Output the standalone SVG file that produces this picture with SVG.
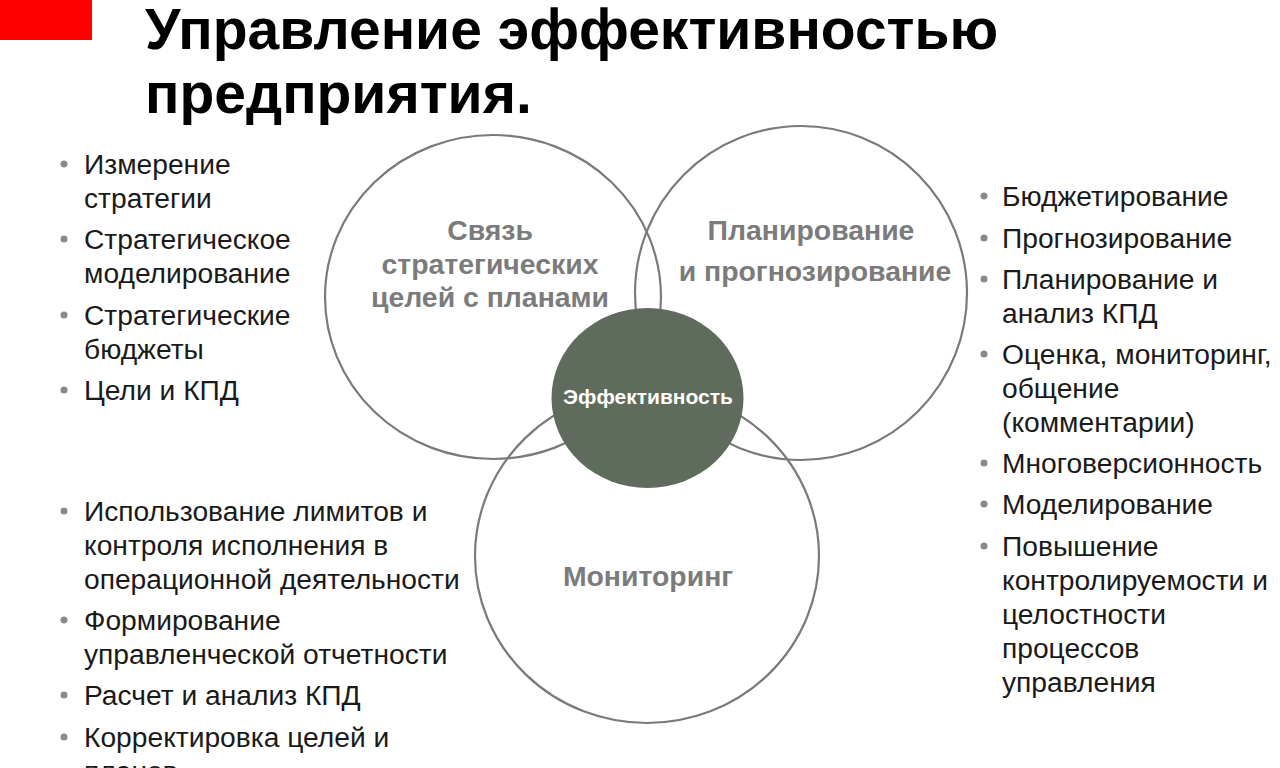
<svg xmlns="http://www.w3.org/2000/svg" width="1280" height="768" viewBox="0 0 1280 768">
<style>
.title{font-family:"Liberation Sans",Arial,sans-serif;font-weight:bold;font-size:57px;fill:#000}
.li{font-family:"Liberation Sans",Arial,sans-serif;font-size:28.2px;fill:#1a1a1a}
.lbl{font-family:"Liberation Sans",Arial,sans-serif;font-weight:bold;font-size:28.4px;fill:#7b7b7b;text-anchor:middle}
.core{font-family:"Liberation Sans",Arial,sans-serif;font-weight:bold;font-size:21px;fill:#ffffff;text-anchor:middle}
.ring{fill:none;stroke:#7a7a7a;stroke-width:2.2}
.dot{fill:#8a8a8a}
</style>
<rect width="1280" height="768" fill="#ffffff"/>
<rect x="0" y="0" width="92" height="40" fill="#ff0000"/>
<g id="title">
<text class="title" x="145" y="49">Управление эффективностью</text>
<text class="title" x="145" y="113">предприятия.</text>
</g>
<g id="circle-strategy">
<ellipse class="ring" cx="493" cy="297" rx="168" ry="162"/>
<text class="lbl" x="490" y="240">Связь</text>
<text class="lbl" x="490" y="274">стратегических</text>
<text class="lbl" x="490" y="307">целей с планами</text>
</g>
<g id="circle-planning">
<ellipse class="ring" cx="801" cy="293" rx="166" ry="167"/>
<text class="lbl" x="811" y="240">Планирование</text>
<text class="lbl" x="815" y="281">и прогнозирование</text>
</g>
<g id="circle-monitoring">
<ellipse class="ring" cx="647" cy="556" rx="172" ry="167"/>
<text class="lbl" x="648" y="586">Мониторинг</text>
</g>
<g id="core">
<ellipse cx="647.5" cy="398" rx="96" ry="90" fill="#5f6b5c"/>
<text class="core" x="648" y="404">Эффективность</text>
</g>
<g id="list-strategy">
<circle class="dot" cx="64" cy="164" r="3.5"/>
<circle class="dot" cx="64" cy="239" r="3.5"/>
<circle class="dot" cx="64" cy="315" r="3.5"/>
<circle class="dot" cx="64" cy="390" r="3.5"/>
<text class="li" x="84" y="174">Измерение</text>
<text class="li" x="84" y="208">стратегии</text>
<text class="li" x="84" y="249">Стратегическое</text>
<text class="li" x="84" y="283">моделирование</text>
<text class="li" x="84" y="325">Стратегические</text>
<text class="li" x="84" y="359">бюджеты</text>
<text class="li" x="84" y="400">Цели и КПД</text>
</g>
<g id="list-planning">
<circle class="dot" cx="984" cy="196" r="3.5"/>
<circle class="dot" cx="984" cy="238" r="3.5"/>
<circle class="dot" cx="984" cy="279" r="3.5"/>
<circle class="dot" cx="984" cy="354" r="3.5"/>
<circle class="dot" cx="984" cy="463" r="3.5"/>
<circle class="dot" cx="984" cy="504" r="3.5"/>
<circle class="dot" cx="984" cy="546" r="3.5"/>
<text class="li" x="1002" y="206">Бюджетирование</text>
<text class="li" x="1002" y="248">Прогнозирование</text>
<text class="li" x="1002" y="289">Планирование и</text>
<text class="li" x="1002" y="323">анализ КПД</text>
<text class="li" x="1002" y="364">Оценка, мониторинг,</text>
<text class="li" x="1002" y="398">общение</text>
<text class="li" x="1002" y="432">(комментарии)</text>
<text class="li" x="1002" y="473">Многоверсионность</text>
<text class="li" x="1002" y="514">Моделирование</text>
<text class="li" x="1002" y="556">Повышение</text>
<text class="li" x="1002" y="590">контролируемости и</text>
<text class="li" x="1002" y="624">целостности</text>
<text class="li" x="1002" y="658">процессов</text>
<text class="li" x="1002" y="692">управления</text>
</g>
<g id="list-monitoring">
<circle class="dot" cx="64" cy="511" r="3.5"/>
<circle class="dot" cx="64" cy="620" r="3.5"/>
<circle class="dot" cx="64" cy="695" r="3.5"/>
<circle class="dot" cx="64" cy="737" r="3.5"/>
<text class="li" x="84" y="521">Использование лимитов и</text>
<text class="li" x="84" y="555">контроля исполнения в</text>
<text class="li" x="84" y="589">операционной деятельности</text>
<text class="li" x="84" y="630">Формирование</text>
<text class="li" x="84" y="664">управленческой отчетности</text>
<text class="li" x="84" y="705">Расчет и анализ КПД</text>
<text class="li" x="84" y="747">Корректировка целей и</text>
<text class="li" x="84" y="781">планов</text>
</g>
</svg>
